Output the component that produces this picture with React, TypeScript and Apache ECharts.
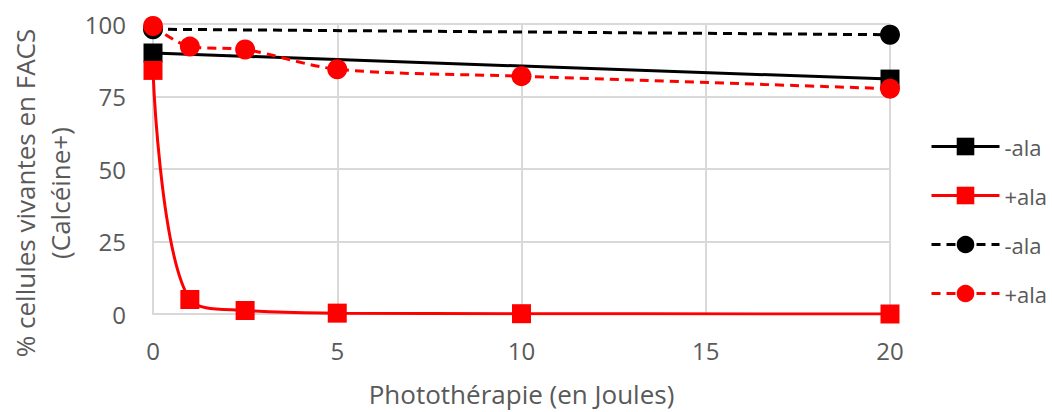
import React, { useEffect, useRef } from "react";
import * as echarts from "echarts";

const xMinusAlaSq = [0, 20];
const yMinusAlaSq = [90, 81];
const xPlusAlaSq = [0, 1, 2.5, 5, 10, 20];
const yPlusAlaSq = [84, 5, 1.2, 0.3, 0.1, 0];
const xMinusAlaCirc = [0, 20];
const yMinusAlaCirc = [98.2, 96.3];
const xPlusAlaCirc = [0, 1, 2.5, 5, 10, 20];
const yPlusAlaCirc = [99.3, 92.2, 91.2, 84.4, 82, 77.7];
const seriesNames = ["-ala", "+ala", "-ala ", "+ala "];
const xTicks = [0, 5, 10, 15, 20];
const yTicks = [0, 25, 50, 75, 100];

const FONT = "Open Sans";
const TXT = "#595959";

function pairs(xs: number[], ys: number[]) {
  return xs.map((x, i) => [x, ys[i]]);
}

export default function App() {
  const ref = useRef<HTMLDivElement>(null);
  useEffect(() => {
    if (!ref.current) return;
    const chart = echarts.init(ref.current, undefined, { renderer: "svg" });
    chart.setOption({
      animation: false,
      backgroundColor: "#ffffff",
      textStyle: { fontFamily: FONT },
      grid: { left: 153, right: 162, top: 24, bottom: 92 },
      xAxis: {
        type: "value",
        min: xTicks[0],
        max: xTicks[xTicks.length - 1],
        interval: 5,
        name: "Photothérapie (en Joules)",
        nameLocation: "middle",
        nameGap: 67,
        nameTextStyle: { color: TXT, fontSize: 26, fontFamily: FONT },
        axisLine: { show: true, lineStyle: { color: "#d9d9d9", width: 2 } },
        axisTick: { show: false },
        axisLabel: { color: TXT, fontSize: 24, fontFamily: FONT, margin: 24 },
        splitLine: { show: true, lineStyle: { color: "#d9d9d9", width: 2 } },
      },
      yAxis: {
        type: "value",
        min: yTicks[0],
        max: yTicks[yTicks.length - 1],
        interval: 25,
        axisLine: { show: true, lineStyle: { color: "#d9d9d9", width: 2 } },
        axisTick: { show: false },
        axisLabel: { color: TXT, fontSize: 24, fontFamily: FONT, margin: 27 },
        splitLine: { show: true, lineStyle: { color: "#d9d9d9", width: 2 } },
      },
      graphic: [
        {
          type: "text",
          x: 42,
          y: 193,
          rotation: Math.PI / 2,
          style: {
            text: "% cellules vivantes en FACS\n(Calcéine+)",
            fill: TXT,
            font: `26px "${FONT}"`,
            align: "center",
            verticalAlign: "middle",
            lineHeight: 35,
          },
        },
      ],
      legend: {
        orient: "vertical",
        left: 925,
        top: 129,
        itemWidth: 68,
        itemHeight: 22,
        itemGap: 24,
        lineStyle: { width: 3 },
        formatter: (name: string) => name.trim(),
        textStyle: { color: TXT, fontSize: 22, fontFamily: FONT, lineHeight: 25 },
        data: seriesNames,
      },
      series: [
        {
          name: seriesNames[0],
          type: "line",
          data: pairs(xMinusAlaSq, yMinusAlaSq),
          symbol: "rect",
          symbolSize: 19,
          itemStyle: { color: "#000000" },
          lineStyle: { color: "#000000", width: 3 },
        },
        {
          name: seriesNames[1],
          type: "line",
          data: pairs(xPlusAlaSq, yPlusAlaSq),
          smooth: 0.4,
          symbol: "rect",
          symbolSize: 19,
          itemStyle: { color: "#ff0000" },
          lineStyle: { color: "#ff0000", width: 3 },
        },
        {
          name: seriesNames[2],
          type: "line",
          data: pairs(xMinusAlaCirc, yMinusAlaCirc),
          symbol: "circle",
          symbolSize: 20,
          itemStyle: { color: "#000000" },
          lineStyle: { color: "#000000", width: 3, type: [9, 6] },
        },
        {
          name: seriesNames[3],
          type: "line",
          data: pairs(xPlusAlaCirc, yPlusAlaCirc),
          smooth: 0.3,
          symbol: "circle",
          symbolSize: 20,
          itemStyle: { color: "#ff0000" },
          lineStyle: { color: "#ff0000", width: 3, type: [9, 6] },
        },
      ],
    });
    return () => chart.dispose();
  }, []);
  return (
    <div
      ref={ref}
      style={{ position: "absolute", left: 0, top: 0, width: 1052, height: 412 }}
    />
  );
}
